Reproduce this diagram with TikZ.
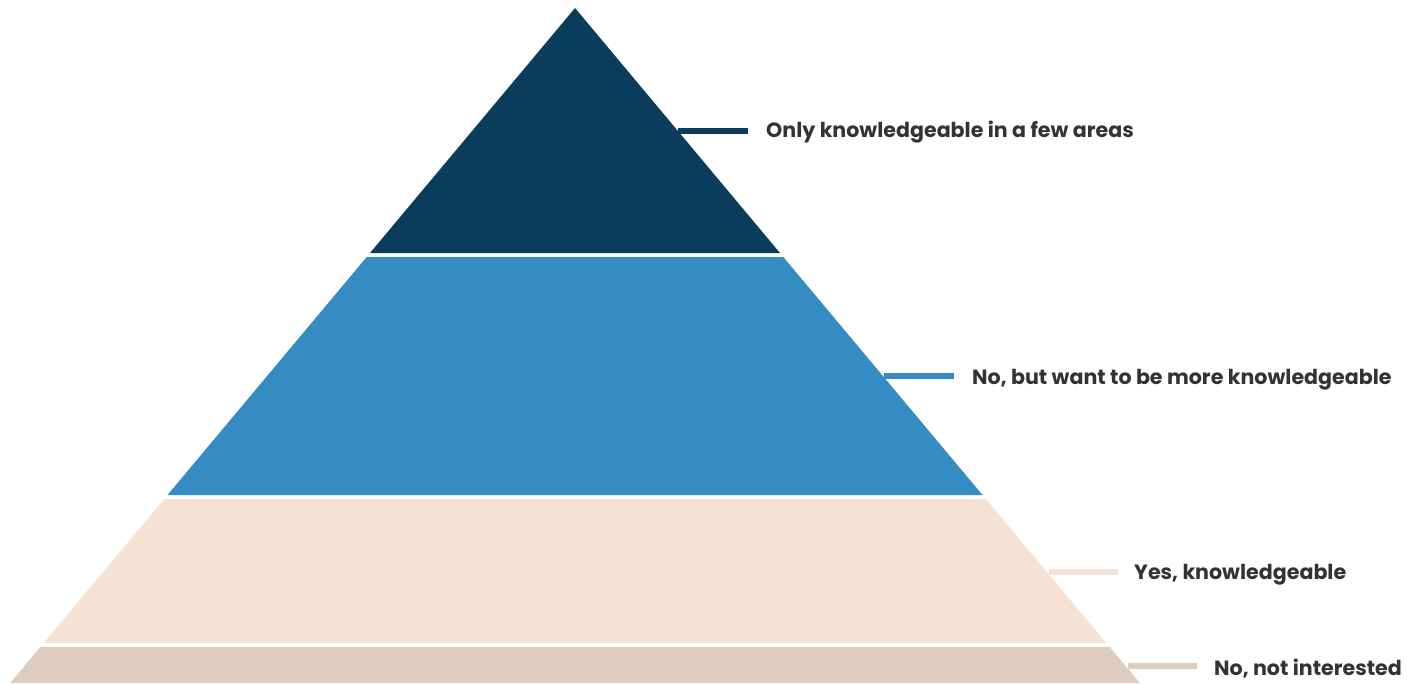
\documentclass[tikz,border=0pt]{standalone}
\usepackage{fontspec}
\setmainfont{Poppins}
\usetikzlibrary{calc,positioning}
\definecolor{navy}{HTML}{0A3C5C}
\definecolor{skyblue}{HTML}{348CC3}
\definecolor{cream}{HTML}{F5E2D3}
\definecolor{tan}{HTML}{DECCBE}
\definecolor{textgray}{HTML}{333333}
\tikzstyle{layer} = [draw=none]
\tikzstyle{key} = [line width=6pt]
\tikzstyle{lbl} = [anchor=base west, inner sep=0pt, text=textgray, font=\fontsize{20.6}{24}\selectfont\bfseries]

\begin{document}
\begin{tikzpicture}[x=1pt,y=-1pt]
\useasboundingbox (0,0) rectangle (1420,683);
% pyramid layers
\fill[layer, navy] (575,8) -- (780,253) -- (370,253) -- cycle;
\fill[layer, skyblue] (366.7,257) -- (783.3,257) -- (982.5,495) -- (167.5,495) -- cycle;
\fill[layer, cream] (164.2,499) -- (985.8,499) -- (1106.3,643) -- (43.7,643) -- cycle;
\fill[layer, tan] (40.3,647) -- (1109.7,647) -- (1139.8,683) -- (10.2,683) -- cycle;
% key lines
\coordinate (k1a) at (678,131);
\coordinate (k1b) at (748,131);
\coordinate (k2a) at (884,376);
\coordinate (k2b) at (954,376);
\coordinate (k3a) at (1049,572);
\coordinate (k3b) at (1118,572);
\coordinate (k4a) at (1128,665.5);
\coordinate (k4b) at (1197,665.5);
\draw[key, navy] (k1a)--(k1b);
\draw[key, skyblue] (k2a)--(k2b);
\draw[key, cream] (k3a)--(k3b);
\draw[key, tan] (k4a)--(k4b);
% labels
\node[lbl] (l1) at (766,137) {Only knowledgeable in a few areas};
\node[lbl] (l2) at (972,384) {No, but want to be more knowledgeable};
\node[lbl] (l3) at (1134,579) {Yes, knowledgeable};
\node[lbl] (l4) at (1214,675) {No, not interested};
\end{tikzpicture}
\end{document}
